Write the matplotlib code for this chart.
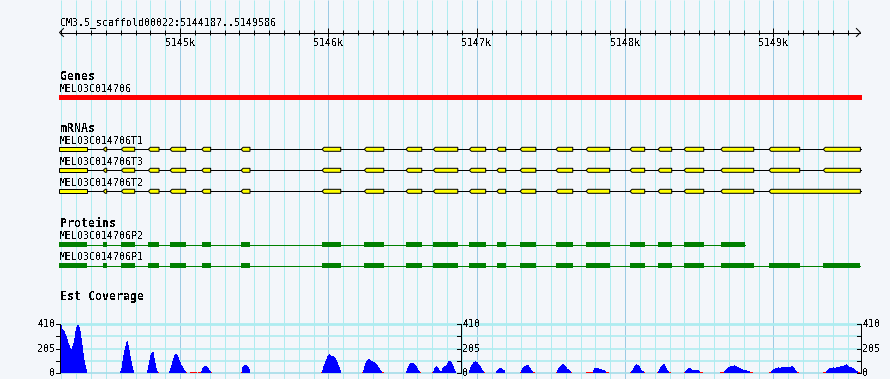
import numpy as np
import matplotlib
matplotlib.use('Agg')
import matplotlib.pyplot as plt
from matplotlib.patches import Polygon, Rectangle

plt.rcParams['text.antialiased'] = False

# Ko'rinish oynasi (genomik koordinatalar)
W, H = 890, 379
REF_START, REF_END = 5144187, 5149586
BP_PER_PX = 6.7412
X0 = REF_START - 59.5 * BP_PER_PX
X1 = X0 + W * BP_PER_PX

title = 'CM3.5_scaffold00022:5144187..5149586'
major_ticks = [5145000, 5146000, 5147000, 5148000, 5149000]
major_labels = ['5145k', '5146k', '5147k', '5148k', '5149k']

gene_name = 'MELO3C014706'
gene_start, gene_end = 5144187, 5149586

# Ekzonlar (T1 / T3 / P1)
exon_starts = [5144186, 5144482, 5144604, 5144786, 5144932, 5145146, 5145411, 5145957,
               5146242, 5146523, 5146707, 5146950, 5147135, 5147292, 5147534, 5147737,
               5148033, 5148222, 5148397, 5148645, 5148970, 5149336]
exon_ends = [5144370, 5144505, 5144694, 5144858, 5145038, 5145206, 5145471, 5146083,
             5146373, 5146629, 5146872, 5147060, 5147195, 5147398, 5147647, 5147896,
             5148132, 5148314, 5148530, 5148867, 5149177, 5149586]

mrna_names = ['MELO3C014706T1', 'MELO3C014706T3', 'MELO3C014706T2']
mrna_exons = [
    list(zip(exon_starts, exon_ends)),
    list(zip(exon_starts, exon_ends)),
    list(zip(exon_starts[:20], exon_ends[:20])) + [(5148970, 5149586)],
]

protein_names = ['MELO3C014706P2', 'MELO3C014706P1']
protein_exons = [
    list(zip(exon_starts[:19], exon_ends[:19])) + [(5148645, 5148809)],
    list(zip(exon_starts, exon_ends)),
]

# Est Coverage
cov_starts = [5144187, 5144595, 5144777, 5144925, 5145067, 5145411, 5145950, 5146226,
              5146523, 5146698, 5146948, 5147130, 5147291, 5147534, 5147736, 5148033,
              5148215, 5148397, 5148640, 5148970, 5149334]
cov_values = [
    [400, 407, 370, 365, 351, 329, 309, 289, 253, 233, 211, 205, 225, 253, 295, 351,
     385, 407, 402, 385, 351, 295, 239, 168, 112, 70, 36],
    [20, 42, 98, 154, 197, 225, 261, 272, 239, 197, 140, 98, 56, 28],
    [28, 70, 112, 149, 168, 177, 174, 126, 84, 42, 14, 10],
    [20, 42, 70, 104, 126, 149, 160, 160, 149, 132, 112, 93, 70, 56, 42, 28, 14, 10],
    [10, 10, 10, 10, 10, 10, 10, 0, 10, 10, 10, 20, 42, 50, 56, 62, 59, 50, 42, 28, 14, 10],
    [10, 48, 62, 67, 70, 67, 62, 48, 36],
    [10, 28, 56, 76, 98, 121, 140, 154, 160, 154, 143, 140, 143, 137, 126, 112, 93, 70, 48, 28],
    [10, 28, 56, 84, 104, 112, 118, 118, 107, 98, 98, 93, 90, 84, 76, 65, 53, 42, 28, 14, 10, 10],
    [14, 42, 62, 76, 84, 87, 87, 84, 79, 70, 56, 42, 28, 14, 10],
    [10, 20, 42, 50, 56, 53, 42, 28, 14, 20, 42, 50, 56, 56, 70, 84, 98, 104, 104, 93, 76,
     56, 36, 14],
    [28, 48, 65, 79, 90, 95, 98, 93, 90, 79, 67, 56, 42, 28, 14, 10],
    [14, 28, 36, 42, 42, 39, 34, 28, 22],
    [10, 28, 42, 50, 56, 62, 65, 70, 65, 53, 42, 28, 20, 10, 10],
    [10, 28, 42, 50, 56, 65, 73, 76, 70, 62, 48, 36, 31, 22, 14, 10],
    [8, 8, 10, 12, 12, 12, 12, 28, 42, 42, 42, 42, 42, 36, 36, 34, 28, 28, 22, 14, 10, 10, 8],
    [10, 14, 28, 42, 56, 70, 76, 70, 65, 56, 42, 28, 20, 14, 10],
    [10, 20, 36, 50, 62, 70, 76, 76, 56, 42, 28, 14, 10, 10],
    [10, 20, 28, 36, 42, 42, 42, 36, 28, 28, 28, 28, 28, 28, 28, 20, 10, 10, 8],
    [8, 8, 10, 12, 20, 28, 36, 42, 48, 50, 56, 56, 62, 62, 65, 62, 56, 50, 48, 42, 42, 36,
     34, 28, 28, 22, 22, 20, 20, 14, 10, 10, 8],
    [10, 10, 20, 28, 36, 36, 42, 42, 42, 48, 42, 42, 48, 48, 50, 48, 50, 50, 48, 50, 53, 53,
     56, 56, 50, 42, 28, 20, 10, 8],
    [8, 10, 12, 20, 28, 36, 42, 42, 42, 42, 48, 42, 42, 48, 48, 48, 53, 56, 56, 62, 62, 70,
     70, 76, 65, 56, 50, 48, 48, 42, 42, 36, 28, 20, 14, 10, 8],
]
cov_max = 410
cov_ticks = [0, 205, 410]

BG = '#f3f6fa'
MINOR = '#aeecf0'
MAJOR = '#9ccbe4'
MONO = 'DejaVu Sans Mono'
LW = 0.72  # 1 px


def px(p):
    return X0 + p * BP_PER_PX


fig = plt.figure(figsize=(W / 100, H / 100), dpi=100, facecolor=BG)
ax = fig.add_axes([0, 0, 1, 1])
ax.set_xlim(X0, X1)
ax.set_ylim(H, 0)
ax.axis('off')
ax.set_facecolor(BG)

# Grid
minor = [t for t in range(5144200, REF_END, 100) if t % 1000]
ax.vlines(minor, 0, H, color=MINOR, lw=LW, zorder=0)
ax.vlines(major_ticks, 0, H, color=MAJOR, lw=LW, zorder=0)

# Ruler
ax.text(px(60), 24.7, title, fontsize=7.2, family=MONO, va='baseline')
ax.plot([REF_START, REF_END], [32.5, 32.5], color='black', lw=LW)
for xa, d in [(REF_START, 1), (REF_END, -1)]:
    ax.plot([xa + d * 4 * BP_PER_PX, xa, xa + d * 4 * BP_PER_PX], [28.5, 32.5, 36.5],
            color='black', lw=LW)
ax.vlines(minor, 30, 35, color='black', lw=LW)
ax.vlines(major_ticks, 28, 37, color='black', lw=LW)
for t, lab in zip(major_ticks, major_labels):
    ax.text(t, 46, lab, fontsize=7.2, family=MONO, ha='center', va='baseline')

# Genes
ax.text(px(60), 80, 'Genes', fontsize=8.4, family=MONO, weight='bold', va='baseline')
ax.text(px(60), 92.3, gene_name, fontsize=7.2, family=MONO, va='baseline')
ax.add_patch(Rectangle((gene_start - 0.5 * BP_PER_PX, 95), gene_end - gene_start + 2 * BP_PER_PX, 5,
                       facecolor='#ff0000', edgecolor='none'))

# mRNAs
ax.text(px(60), 131.7, 'mRNAs', fontsize=8.4, family=MONO, weight='bold', va='baseline')
mrna_rows = [149.3, 170.3, 191.3]
tip = 2 * BP_PER_PX
for name, exons, yc in zip(mrna_names, mrna_exons, mrna_rows):
    ax.text(px(60), yc - 5.3, name, fontsize=7.2, family=MONO, va='baseline')
    ax.plot([exons[0][0], exons[-1][1] + BP_PER_PX], [yc, yc], color='black', lw=LW, zorder=2)
    for i, (s, e) in enumerate(exons):
        t = tip if i > 0 else 0
        pts = [(s, yc), (s + t, yc - 2), (e, yc - 2), (e, yc + 2), (s + t, yc + 2)]
        ax.add_patch(Polygon(pts, closed=True, facecolor='#ffff00', edgecolor='black',
                             lw=LW, zorder=3))

# Proteins
ax.text(px(60), 226.7, 'Proteins', fontsize=8.4, family=MONO, weight='bold', va='baseline')
prot_rows = [244.6, 265.6]
for name, exons, yc in zip(protein_names, protein_exons, prot_rows):
    ax.text(px(60), yc - 5.3, name, fontsize=7.2, family=MONO, va='baseline')
    ax.plot([exons[0][0], exons[-1][1]], [yc, yc], color='#008000', lw=LW, zorder=2)
    for s, e in exons:
        ax.add_patch(Rectangle((s, yc - 2.7), e - s, 5.4, facecolor='#008000',
                               edgecolor='none', zorder=3))

# Est Coverage
ax.text(px(60), 300, 'Est Coverage', fontsize=8.4, family=MONO, weight='bold', va='baseline')

y_top, y_bot = 324.3, 373
ax2 = fig.add_axes([0, (H - y_bot) / H, 1, (y_bot - y_top) / H])
ax2.set_xlim(X0, X1)
ax2.set_ylim(0, cov_max)
ax2.axis('off')
ax2.patch.set_alpha(0)

gx0, gx1 = px(60), px(861)
ax2.hlines([cov_max * 0.25, cov_max * 0.5, cov_max * 0.75], gx0, gx1, color=MINOR, lw=1.2, zorder=0)
ax2.hlines([cov_max], gx0, gx1, color=MINOR, lw=2.0, zorder=0, clip_on=False)
ax2.hlines([0], gx0, gx1, color='#a6dce8', lw=1.2, zorder=0, clip_on=False)

for s, vals in zip(cov_starts, cov_values):
    vals = np.array(vals)
    xs = s + BP_PER_PX * np.arange(len(vals))
    cols = ['#ff0000' if v <= 12 else '#0000ff' for v in vals]
    ax2.bar(xs, vals, width=BP_PER_PX, align='edge', color=cols, linewidth=0,
            antialiased=False, zorder=2)

for axpx, side in [(60, 'left'), (460.7, 'mid'), (860.7, 'right')]:
    xa = px(axpx)
    ax2.plot([xa, xa], [0, cov_max], color='black', lw=LW, clip_on=False, zorder=4)
    for v in [0, cov_max * 0.25, cov_max * 0.5, cov_max * 0.75, cov_max]:
        ax2.plot([xa - 4 * BP_PER_PX, xa], [v, v], color='black', lw=LW, clip_on=False, zorder=4)
    for v in cov_ticks:
        if side == 'left':
            ax2.text(px(axpx - 4.5), v, str(v), fontsize=7.2, family=MONO, ha='right',
                     va='center')
        else:
            ax2.text(px(axpx + 1.5), v, str(v), fontsize=7.2, family=MONO, ha='left',
                     va='center')

fig.savefig('out.png', dpi=100, facecolor=BG)
